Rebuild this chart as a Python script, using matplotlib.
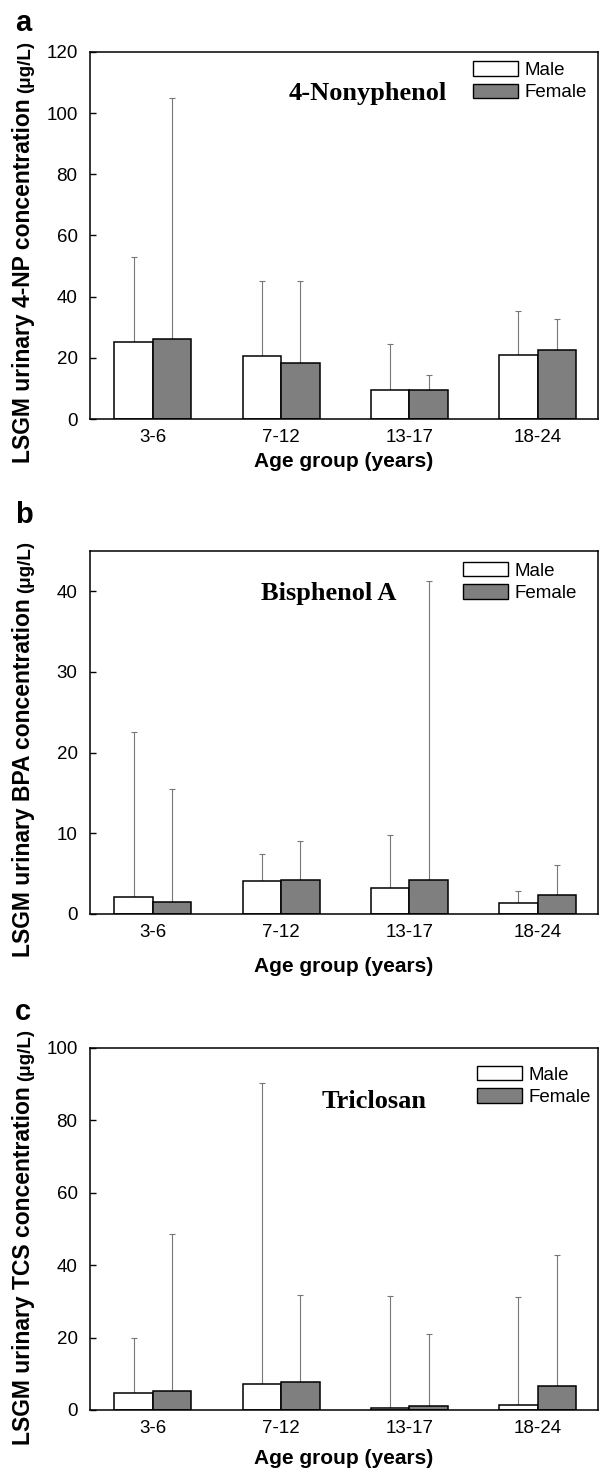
import numpy as np
import matplotlib
matplotlib.use("Agg")
import matplotlib.pyplot as plt
from matplotlib.patches import Patch

plt.rcParams['font.family'] = ['Liberation Sans', 'DejaVu Sans']

# age groups
groups = ['3-6', '7-12', '13-17', '18-24']

# 4-nonylphenol (mean and top of error bar)
np_male = [25.2, 20.5, 9.4, 20.9]
np_female = [26.0, 18.2, 9.6, 22.6]
np_male_top = [52.9, 45.0, 24.5, 35.3]
np_female_top = [104.8, 45.0, 14.3, 32.7]

# bisphenol A
bpa_male = [2.07, 4.05, 3.26, 1.36]
bpa_female = [1.53, 4.17, 4.2, 2.4]
bpa_male_top = [22.6, 7.4, 9.75, 2.8]
bpa_female_top = [15.45, 9.1, 41.3, 6.03]

# triclosan
tcs_male = [4.8, 7.3, 0.64, 1.4]
tcs_female = [5.2, 7.7, 1.1, 6.5]
tcs_male_top = [19.9, 90.2, 31.6, 31.2]
tcs_female_top = [48.5, 31.9, 21.0, 42.8]

gray = '#7f7f7f'
W, H = 599, 1470
fig = plt.figure(figsize=(W / 100, H / 100), dpi=100)


def px_axes(left, top, right, bottom):
    return fig.add_axes([left / W, 1 - bottom / H, (right - left) / W, (bottom - top) / H])


def panel(ax, male, female, male_top, female_top, ymax, yticks, title, tpos, legpos):
    x = np.arange(len(groups))
    w = 0.3
    ax.bar(x - w / 2, male, w, color='white', edgecolor='black', linewidth=1.1, zorder=2)
    ax.bar(x + w / 2, female, w, color=gray, edgecolor='black', linewidth=1.1, zorder=2)
    up_m = np.array(male_top) - np.array(male)
    up_f = np.array(female_top) - np.array(female)
    ax.errorbar(x - w / 2, male, yerr=[np.zeros(4), up_m], fmt='none', ecolor='#777777',
                elinewidth=0.8, capsize=2, capthick=0.8, zorder=1)
    ax.errorbar(x + w / 2, female, yerr=[np.zeros(4), up_f], fmt='none', ecolor='#777777',
                elinewidth=0.8, capsize=2, capthick=0.8, zorder=1)
    ax.set_xlim(-0.49, 3.47)
    ax.set_ylim(0, ymax)
    ax.set_xticks(x)
    ax.set_xticklabels(groups)
    ax.set_yticks(yticks)
    ax.tick_params(axis='x', length=0, pad=7, labelsize=13.5)
    ax.tick_params(axis='y', direction='in', length=4, width=1, pad=9, labelsize=13.5)
    for s in ax.spines.values():
        s.set_linewidth(1.1)
    ax.text(tpos[0], tpos[1], title, transform=ax.transAxes, ha='center', va='baseline',
            fontsize=19, fontweight='bold', family='Liberation Serif')
    ax.legend(handles=[Patch(facecolor='white', edgecolor='black'),
                       Patch(facecolor=gray, edgecolor='black')],
              labels=['Male', 'Female'], loc='upper left', bbox_to_anchor=legpos,
              frameon=False, fontsize=13.5, handlelength=2.4, handleheight=0.8,
              handletextpad=0.35, labelspacing=0.25, borderpad=0, borderaxespad=0)


ax1 = px_axes(90, 52, 598, 419)
panel(ax1, np_male, np_female, np_male_top, np_female_top, 120, range(0, 121, 20),
      '4-Nonyphenol', (0.547, 0.869), (0.754, 0.975))
ax2 = px_axes(90, 551, 598, 914)
panel(ax2, bpa_male, bpa_female, bpa_male_top, bpa_female_top, 45, range(0, 41, 10),
      'Bisphenol A', (0.469, 0.865), (0.734, 0.970))
ax3 = px_axes(90, 1048, 598, 1410)
panel(ax3, tcs_male, tcs_female, tcs_male_top, tcs_female_top, 100, range(0, 101, 20),
      'Triclosan', (0.559, 0.834), (0.762, 0.950))

# panel letters
for letter, yb in [('a', 31), ('b', 523), ('c', 1020)]:
    fig.text(15 / W, 1 - yb / H, letter, fontsize=21, fontweight='bold', va='baseline')

# x labels
for yc in [461, 967, 1458]:
    fig.text(344 / W, 1 - yc / H, 'Age group (years)', fontsize=15, fontweight='bold',
             ha='center', va='center')

# y labels: main part plus smaller unit
fig.canvas.draw()
rend = fig.canvas.get_renderer()
for name, yb in [('4-NP', 463), ('BPA', 957), ('TCS', 1445)]:
    t = fig.text(24 / W, 1 - yb / H, 'LSGM urinary %s concentration' % name, rotation=90,
                 fontsize=16.5, fontweight='bold', ha='center', va='bottom')
    bb = t.get_window_extent(rend)
    fig.text(26 / W, (bb.y1 + 5) / H, '(μg/L)', rotation=90, fontsize=13.5,
             fontweight='bold', ha='center', va='bottom')

fig.savefig('out.png', dpi=100)
